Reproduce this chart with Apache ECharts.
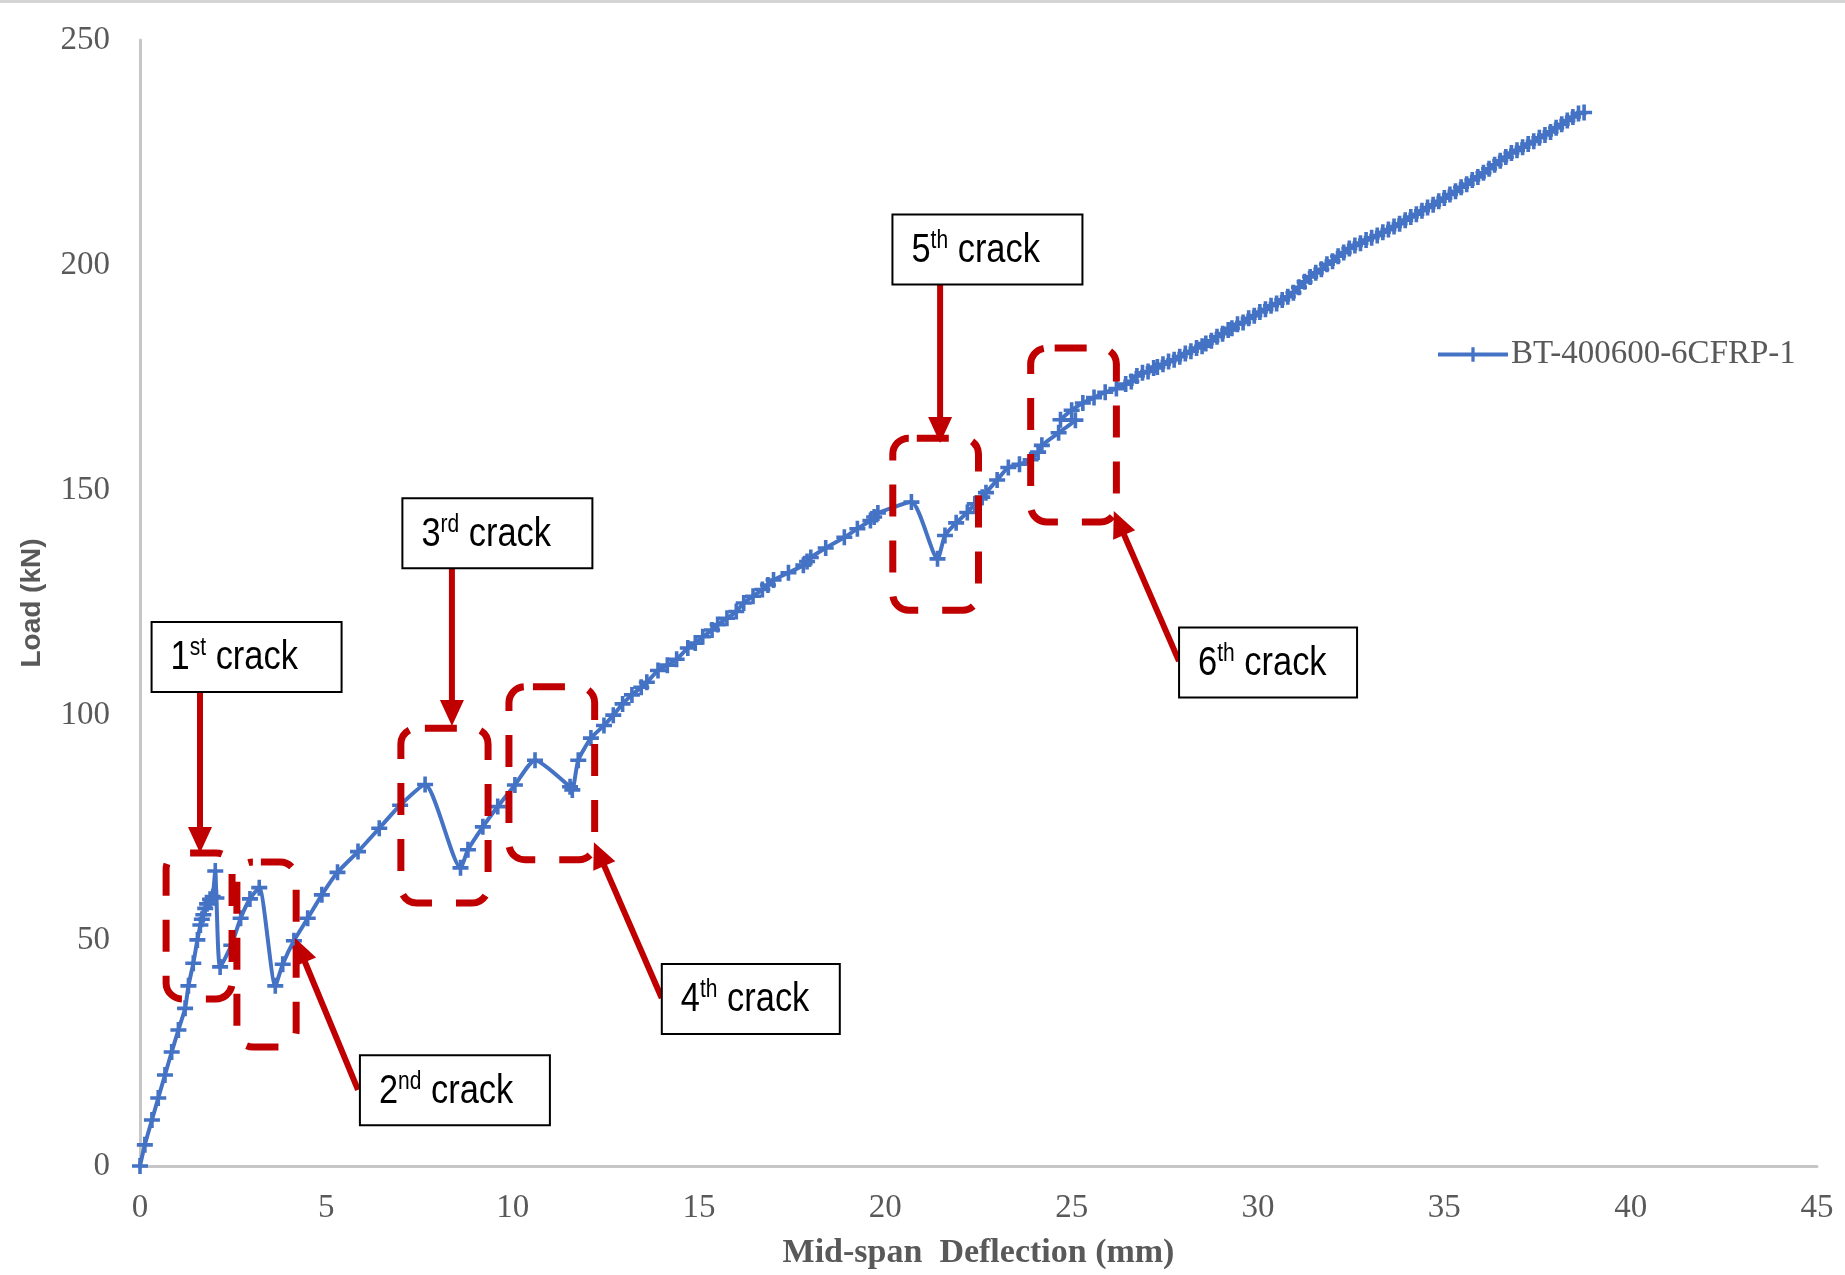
<!DOCTYPE html>
<html>
<head>
<meta charset="utf-8">
<title>BT-400600-6CFRP-1 load–deflection</title>
<script src="https://cdn.jsdelivr.net/npm/echarts@6/dist/echarts.min.js"></script>
<style>
  html, body { margin: 0; padding: 0; background: #ffffff; }
  #chart { width: 1845px; height: 1275px; }
</style>
</head>
<body>
<div id="chart"></div>
<script>
// Mid-span deflection (mm) and applied load (kN) for specimen BT-400600-6CFRP-1
const seriesName = 'BT-400600-6CFRP-1';

const deflection = [
  0, 0.13, 0.32, 0.49, 0.67, 0.85, 1.03, 1.21, 1.3, 1.43, 1.54, 1.62, 1.66, 1.7, 1.75, 1.8, 1.88, 1.95,
  2.02, 2.05, 2.15, 2.45, 2.7, 2.95, 3.2, 3.63, 3.83, 4.13, 4.5, 4.88, 5.3, 5.85, 6.42, 6.98, 7.65,
  8.6, 8.8, 9.2, 9.6, 10.06, 10.6, 11.54, 11.6, 11.76, 12.1,
  12.45, 12.7, 12.95, 13.2, 13.45, 13.6, 13.9, 14.15, 14.4, 14.7, 14.9, 15.1, 15.35, 15.5, 15.75,
  16.0, 16.2, 16.45, 16.7, 16.85, 17.0, 17.4, 17.8, 17.9, 18.0, 18.4, 18.9, 19.25, 19.6, 19.7, 19.8,
  20.7, 21.4, 21.6, 21.9, 22.2, 22.4, 22.6, 22.7, 23.0, 23.3, 23.6, 23.9, 24.1, 24.2, 24.65,
  25.1, 24.7, 25.0, 25.3, 25.6, 25.9, 26.2, 26.45, 26.6, 26.75,
  26.9, 27.05, 27.2, 27.3, 27.45, 27.6, 27.75, 27.9, 28.05, 28.2, 28.35, 28.5, 28.6, 28.75, 28.9,
  29.05, 29.2, 29.3, 29.45, 29.6, 29.75, 29.9, 30.05, 30.2, 30.35, 30.5, 30.65, 30.8, 30.95, 31.1,
  31.25, 31.4, 31.55, 31.7, 31.85, 32.0, 32.15, 32.3, 32.45, 32.6, 32.75, 32.9, 33.05, 33.2, 33.35,
  33.5, 33.65, 33.8, 33.95, 34.1, 34.25, 34.4, 34.55, 34.7, 34.85, 35.0, 35.15, 35.3, 35.45, 35.6,
  35.75, 35.9, 36.05, 36.2, 36.35, 36.5, 36.65, 36.8, 36.95, 37.1, 37.25, 37.4, 37.55, 37.7, 37.85,
  38.0, 38.15, 38.3, 38.45, 38.6, 38.75
];

const load = [
  0, 4.7, 10.2, 15.1, 20.2, 25.3, 30.2, 35.0, 40.0, 45.0, 50.2, 53.5, 54.8, 55.8, 57.2, 58.2, 59.2, 59.8,
  65.5, 59.5, 44.2, 49.0, 55.0, 59.3, 61.8, 40.0, 44.8, 50.0, 55.0, 60.2, 65.2, 69.8, 75.0, 80.1, 84.7,
  66.2, 70.2, 75.3, 79.8, 84.6, 90.1, 84.2, 83.5, 90.1, 95.0,
  97.8, 100.1, 102.6, 104.6, 106.3, 107.4, 110.0, 111.2, 112.5, 115.0, 116.1, 117.5, 119.0, 120.2, 121.6,
  123.1, 125.0, 126.5, 128.0, 129.0, 130.1, 131.7, 133.4, 134.2, 135.1, 137.2, 139.6, 141.5, 143.3, 144.1, 145.0,
  147.4, 134.8, 140.0, 142.8, 145.1, 147.0, 148.5, 149.5, 152.3, 155.1, 155.8, 156.8, 158.5, 160.0, 162.8,
  165.6, 165.7, 167.8, 169.4, 170.6, 171.8, 172.6, 173.6, 174.2, 175.4,
  176.1, 176.4, 177.2, 177.4, 178.0, 178.6, 179.0, 179.7, 180.4, 180.9, 181.6, 182.0, 182.6, 183.2, 184.1,
  184.8, 185.6, 186.0, 186.9, 187.3, 188.2, 188.8, 189.6, 190.2, 191.0, 191.5, 192.3, 193.0, 193.9, 195.1,
  196.3, 197.4, 198.3, 199.1, 200.2, 200.9, 202.0, 202.8, 203.7, 204.4, 204.9, 205.6, 206.1, 206.6, 207.3,
  207.9, 208.6, 209.2, 210.0, 210.7, 211.3, 212.1, 212.8, 213.4, 214.2, 214.9, 215.7, 216.4, 217.3, 218.0,
  218.9, 219.6, 220.5, 221.4, 222.3, 223.2, 224.0, 224.9, 225.5, 226.2, 226.9, 227.5, 228.3, 228.9, 229.6,
  230.5, 231.3, 232.1, 232.9, 233.7, 233.9
];

// Axis ranges and tick steps
const xTicks = { min: 0, max: 45, step: 5 };
const yTicks = { min: 0, max: 250, step: 50 };

// Crack callouts: ordinal number and its suffix
const crackNumbers = ['1', '2', '3', '4', '5', '6'];
const crackSuffixes = ['st', 'nd', 'rd', 'th', 'th', 'th'];

// Annotation layout, in axis units (deflection, load)
const annotationLayout = [
  { zone: [0.7, 69.5, 2.47, 37.1],   box: [2.86, 113.0, 190], tail: [1.61, 105.2], tip: [1.61, 69.5] },
  { zone: [2.6, 67.5, 4.19, 26.4],   box: [8.45, 16.8, 190],  tail: [5.85, 16.9],  tip: [4.16, 50.6] },
  { zone: [7.0, 97.2, 9.34, 58.4],   box: [9.59, 140.5, 190], tail: [8.37, 132.8], tip: [8.37, 97.7] },
  { zone: [9.9, 106.4, 12.2, 68.0],  box: [16.39, 37.1, 178], tail: [14.0, 37.3],  tip: [12.18, 71.9] },
  { zone: [20.2, 161.6, 22.5, 123.4], box: [22.74, 203.5, 190], tail: [21.47, 195.6], tip: [21.47, 160.5] },
  { zone: [23.9, 181.6, 26.2, 143.0], box: [30.27, 111.8, 178], tail: [27.88, 112.1], tip: [26.13, 145.4] }
];

const BLUE = '#4472C4';
const RED = '#C00000';
const GREY_TEXT = '#595959';
const SERIF = '"Liberation Serif", "Times New Roman", serif';
const SANS = '"Liberation Sans", Arial, sans-serif';
const NARROW = '"Liberation Sans Narrow", "Arial Narrow", "Liberation Sans", Arial, sans-serif';
const PLUS = 'path://M6.2,0H9.8V6.2H16V9.8H9.8V16H6.2V9.8H0V6.2H6.2Z';

const points = deflection.map((d, i) => [d, load[i]]);

const chart = echarts.init(document.getElementById('chart'), null, { renderer: 'canvas' });

chart.setOption({
  animation: false,
  backgroundColor: '#ffffff',
  grid: { left: 140, right: 28, top: 40, bottom: 109, containLabel: false },
  legend: {
    data: [seriesName],
    left: 1431,
    top: 333,
    itemWidth: 70,
    itemHeight: 18,
    itemGap: 10,
    lineStyle: { width: 4 },
    textStyle: { fontFamily: SERIF, fontSize: 33, color: GREY_TEXT, padding: [0, 0, 0, -2] }
  },
  xAxis: {
    type: 'value',
    min: xTicks.min,
    max: xTicks.max,
    interval: xTicks.step,
    name: 'Mid-span  Deflection (mm)',
    nameLocation: 'middle',
    nameGap: 70,
    nameTextStyle: { fontFamily: SERIF, fontWeight: 'bold', fontSize: 34, color: GREY_TEXT },
    axisLine: { show: true, lineStyle: { color: '#C6C6C6', width: 3 } },
    axisTick: { show: false },
    splitLine: { show: false },
    axisLabel: { fontFamily: SERIF, fontSize: 33, color: GREY_TEXT, margin: 26 }
  },
  yAxis: {
    type: 'value',
    min: yTicks.min,
    max: yTicks.max,
    interval: yTicks.step,
    name: 'Load (kN)',
    nameLocation: 'middle',
    nameGap: 94,
    nameTextStyle: { fontFamily: SANS, fontWeight: 'bold', fontSize: 28, color: GREY_TEXT },
    axisLine: { show: true, lineStyle: { color: '#C6C6C6', width: 3 } },
    axisTick: { show: false },
    splitLine: { show: false },
    axisLabel: { fontFamily: SERIF, fontSize: 33, color: GREY_TEXT, margin: 30 }
  },
  series: [{
    name: seriesName,
    type: 'line',
    data: points,
    smooth: 0.2,
    showSymbol: true,
    showAllSymbol: true,
    symbol: PLUS,
    symbolSize: 16,
    itemStyle: { color: BLUE },
    lineStyle: { color: BLUE, width: 4 },
    z: 2
  }]
});

// Overlay: dashed crack zones, arrows and labelled callout boxes
function buildAnnotations() {
  const px = (p) => chart.convertToPixel({ gridIndex: 0 }, p);
  const elements = [
    { type: 'rect', z: 200, shape: { x: 0, y: 0, width: 1845, height: 3 }, style: { fill: '#d4d4d4' } }
  ];

  annotationLayout.forEach((a, i) => {
    // dashed rounded zone
    const p0 = px([a.zone[0], a.zone[1]]);
    const p1 = px([a.zone[2], a.zone[3]]);
    elements.push({
      type: 'rect', z: 100,
      shape: { x: p0[0], y: p0[1], width: p1[0] - p0[0], height: p1[1] - p0[1], r: 16 },
      style: { fill: 'none', stroke: RED, lineWidth: 7, lineDash: [32, 24], lineDashOffset: -8 }
    });

    // arrow shaft and head
    const t = px(a.tail);
    const h = px(a.tip);
    const dx = h[0] - t[0], dy = h[1] - t[1];
    const len = Math.hypot(dx, dy);
    const ux = dx / len, uy = dy / len;
    const headLen = 26, headHalf = 12;
    const bx = h[0] - ux * headLen, by = h[1] - uy * headLen;
    elements.push({
      type: 'line', z: 110,
      shape: { x1: t[0], y1: t[1], x2: bx + ux * 2, y2: by + uy * 2 },
      style: { stroke: RED, lineWidth: 6 }
    });
    elements.push({
      type: 'polygon', z: 110,
      shape: { points: [[h[0], h[1]], [bx - uy * headHalf, by + ux * headHalf], [bx + uy * headHalf, by - ux * headHalf]] },
      style: { fill: RED }
    });

    // callout box with ordinal label (narrow lettering)
    const c = px([a.box[0], a.box[1]]);
    const w = a.box[2], bh = 70;
    elements.push({
      type: 'rect', z: 120,
      shape: { x: c[0] - w / 2, y: c[1] - bh / 2, width: w, height: bh },
      style: { fill: '#ffffff', stroke: '#000000', lineWidth: 2 }
    });
    elements.push({
      type: 'text', z: 121,
      x: c[0] - w / 2 + 19,
      y: c[1] + 1,
      scaleX: 0.84,
      style: {
        x: 0,
        y: 0,
        text: '{n|' + crackNumbers[i] + '}{s|' + crackSuffixes[i] + '}{n| crack}',
        align: 'left',
        verticalAlign: 'middle',
        rich: {
          n: { fontFamily: NARROW, fontSize: 41, color: '#000000', lineHeight: 44 },
          s: { fontFamily: NARROW, fontSize: 25, color: '#000000', lineHeight: 30, verticalAlign: 'top' }
        }
      }
    });
  });
  return elements;
}

chart.setOption({ graphic: buildAnnotations() });
</script>
</body>
</html>
